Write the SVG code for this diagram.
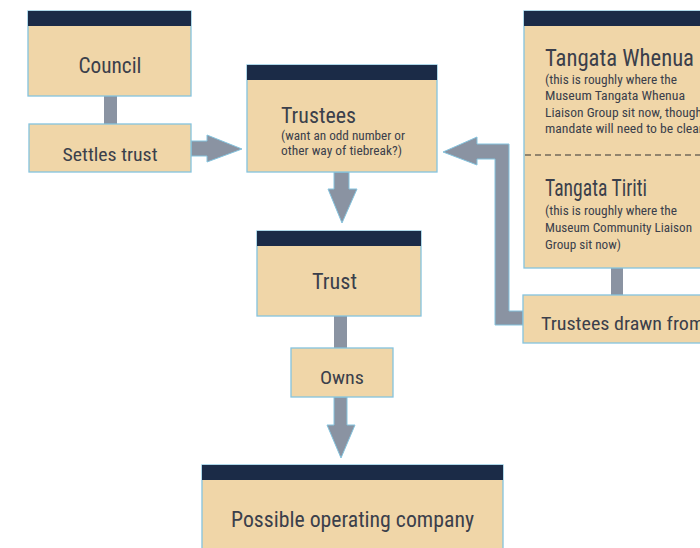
<svg xmlns="http://www.w3.org/2000/svg" width="700" height="548" viewBox="0 0 700 548">
<style>
.box{fill:#f0d6a8;stroke:#84c3de;stroke-width:1.3}
.hdr{fill:#1b2b47}
.con{fill:#8a93a2;stroke:#84c3de;stroke-width:1}
.bar{fill:#8a93a2}
text{font-family:"Liberation Sans Narrow","Roboto Condensed","DejaVu Sans Condensed","Liberation Sans",sans-serif;fill:#3b3f4b}
.t1{font-size:22px}
.t2{font-size:19px}
.s{font-size:13px}
</style>
<rect width="700" height="548" fill="#ffffff"/>
<g id="connectors">
  <rect class="bar" x="104" y="96" width="13" height="28"/>
  <path class="con" d="M191,141 H207 V135 L242,149 L207,162 V156 H191 Z"/>
  <path class="con" d="M334,172 V189 H328 L342,223 L357,189 H349 V172 Z"/>
  <rect class="bar" x="334" y="316" width="13" height="32"/>
  <path class="con" d="M334,397 V425 H327 L341,458 L355,425 H347 V397 Z"/>
  <rect class="bar" x="611" y="268" width="12" height="27"/>
  <path class="con" d="M523,325 H495 V159 H477 V165 L443,152 L477,137 V144 H509 V311 H523 Z"/>
</g>
<g id="council">
  <rect class="box" x="28" y="11" width="163" height="85"/>
  <rect class="hdr" x="28" y="11" width="163" height="15"/>
  <text class="t1" x="110" y="73" text-anchor="middle" textLength="63" lengthAdjust="spacingAndGlyphs">Council</text>
</g>
<g id="settles">
  <rect class="box" x="29" y="124" width="162" height="48"/>
  <text class="t2" x="110" y="161" text-anchor="middle" textLength="95" lengthAdjust="spacingAndGlyphs">Settles trust</text>
</g>
<g id="trustees">
  <rect class="box" x="247" y="65" width="190" height="107"/>
  <rect class="hdr" x="247" y="65" width="190" height="15"/>
  <text class="t1" x="281" y="123" textLength="75" lengthAdjust="spacingAndGlyphs">Trustees</text>
  <text class="s" x="281" y="140" textLength="124" lengthAdjust="spacingAndGlyphs">(want an odd number or</text>
  <text class="s" x="281" y="155" textLength="121" lengthAdjust="spacingAndGlyphs">other way of tiebreak?)</text>
</g>
<g id="trust">
  <rect class="box" x="257" y="231" width="164" height="85"/>
  <rect class="hdr" x="257" y="231" width="164" height="15"/>
  <text class="t1" x="334.5" y="289" text-anchor="middle" textLength="45" lengthAdjust="spacingAndGlyphs">Trust</text>
</g>
<g id="owns">
  <rect class="box" x="291" y="348" width="102" height="49"/>
  <text class="t2" x="342" y="384" text-anchor="middle" textLength="44" lengthAdjust="spacingAndGlyphs">Owns</text>
</g>
<g id="company">
  <rect class="box" x="202" y="465" width="301" height="90"/>
  <rect class="hdr" x="202" y="465" width="301" height="15"/>
  <text class="t1" x="352.5" y="527" text-anchor="middle" textLength="243" lengthAdjust="spacingAndGlyphs">Possible operating company</text>
</g>
<g id="tangata">
  <rect class="box" x="524" y="11" width="190" height="257"/>
  <rect class="hdr" x="524" y="11" width="190" height="15"/>
  <line x1="525" y1="155" x2="714" y2="155" stroke="#333" stroke-width="1.2" stroke-dasharray="6,4"/>
  <text x="545" y="66" font-size="24" textLength="149" lengthAdjust="spacingAndGlyphs">Tangata Whenua</text>
  <text class="s" x="545" y="84" textLength="132" lengthAdjust="spacingAndGlyphs">(this is roughly where the</text>
  <text class="s" x="545" y="100" textLength="140" lengthAdjust="spacingAndGlyphs">Museum Tangata Whenua</text>
  <text class="s" x="545" y="117" textLength="157" lengthAdjust="spacingAndGlyphs">Liaison Group sit now, though</text>
  <text class="s" x="545" y="133" textLength="158" lengthAdjust="spacingAndGlyphs">mandate will need to be clear</text>
  <text x="545" y="196" font-size="24" textLength="102" lengthAdjust="spacingAndGlyphs">Tangata Tiriti</text>
  <text class="s" x="545" y="215" textLength="132" lengthAdjust="spacingAndGlyphs">(this is roughly where the</text>
  <text class="s" x="545" y="232" textLength="147" lengthAdjust="spacingAndGlyphs">Museum Community Liaison</text>
  <text class="s" x="545" y="249" textLength="76" lengthAdjust="spacingAndGlyphs">Group sit now)</text>
</g>
<g id="drawn">
  <rect class="box" x="523" y="295" width="190" height="48"/>
  <text class="t2" x="541" y="330" textLength="163" lengthAdjust="spacingAndGlyphs">Trustees drawn from</text>
</g>
</svg>
